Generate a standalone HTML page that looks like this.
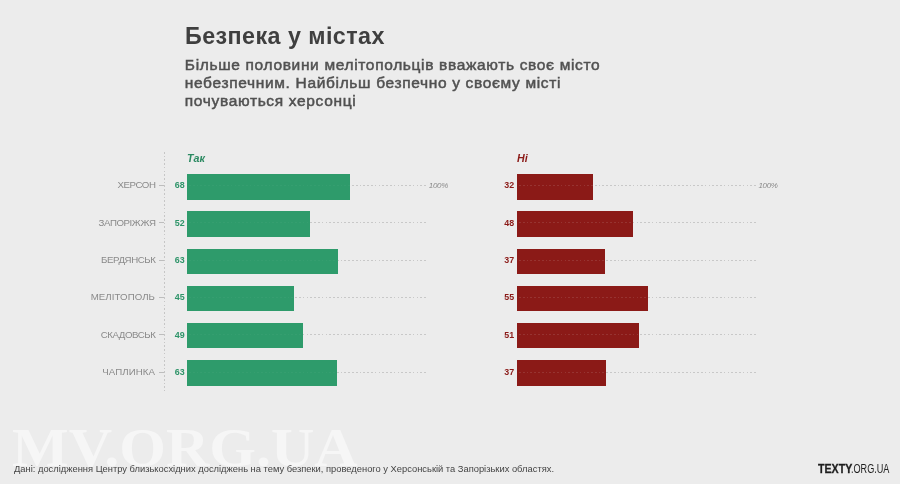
<!DOCTYPE html>
<html lang="uk"><head><meta charset="utf-8"><title>Безпека у містах</title>
<style>
html,body{margin:0;padding:0}
body{width:900px;height:484px;background:#ececec;position:relative;overflow:hidden;font-family:"Liberation Sans","DejaVu Sans",sans-serif;color:#444}
#wrap{position:absolute;left:0;top:0;width:900px;height:484px;overflow:hidden;background:#ececec}
h1{position:absolute;left:185px;top:22px;margin:0;font-size:23.3px;line-height:28px;font-weight:bold;color:#3f3f3f;letter-spacing:0.44px;white-space:nowrap}
p.sub{position:absolute;left:184.8px;top:55.5px;margin:0;font-size:15.5px;line-height:18.4px;font-weight:normal;color:#515151;-webkit-text-stroke:0.5px #515151;width:520px;letter-spacing:0.66px;white-space:nowrap}
.city{position:absolute;right:744.5px;height:26px;line-height:26px;font-size:9.7px;color:#8a8a8a;white-space:nowrap;letter-spacing:-0.42px}
.tick{position:absolute;left:159px;width:4.5px;height:1px;background:#bdbdbd}
.vax{position:absolute;left:164.1px;top:151.5px;height:239.5px;width:1.2px;background:repeating-linear-gradient(to bottom,#c6c6c6 0,#c6c6c6 1.6px,transparent 1.6px,transparent 3.72px)}
.dl{position:absolute;width:239px;height:1px;background:repeating-linear-gradient(to right,transparent 0,transparent 2.1px,#c8c8c8 2.1px,#c8c8c8 3.79px)}
.bar{position:absolute;height:25.7px}
.bar i{position:absolute;left:0;right:0;top:11.2px;height:1px;background:repeating-linear-gradient(to right,transparent 0,transparent 2.1px,rgba(236,236,236,0.12) 2.1px,rgba(236,236,236,0.12) 3.79px)}
.gb{background:#2e9b6b}
.gb i{opacity:0.3}
.rb{background:#8b1a17}
.val{position:absolute;width:30px;text-align:right;height:26px;line-height:26px;font-size:8.9px;font-weight:bold}
.g{color:#2e9469}.r{color:#8b1a17}
.hd{position:absolute;top:151.6px;font-size:10.7px;line-height:13px;font-style:italic;font-weight:bold}
.hd.g{color:#2c8a62}
.pct{position:absolute;top:179.7px;font-size:8px;line-height:12px;font-style:italic;color:#8a8a8a;letter-spacing:-0.3px}
.wm{position:absolute;left:12px;top:416px;font-family:"Liberation Serif",serif;font-weight:bold;font-size:60px;line-height:60px;color:#f6f6f6;white-space:nowrap;transform:scale(1,0.92);transform-origin:0 50px}
.src{position:absolute;left:14px;top:463.1px;font-size:9.35px;line-height:12px;color:#444;white-space:nowrap}
.logo{position:absolute;left:817.6px;top:462.4px;font-size:12.3px;line-height:14px;color:#1e1e1e;white-space:nowrap}
.logo b,.logo span{position:absolute;top:0;left:0;transform-origin:0 0}
.logo b{transform:scaleX(0.865);-webkit-text-stroke:0.3px #1e1e1e}
.logo span{left:33.9px;transform:scaleX(0.74)}
</style></head><body><div id="wrap">
<h1>Безпека у містах</h1>
<p class="sub">Більше половини мелітопольців вважають своє місто<br>небезпечним. Найбільш безпечно у своєму місті<br>почуваються херсонці</p>
<div class="vax"></div>
<div class="hd g" style="left:187px">Так</div>
<div class="hd r" style="left:517px">Ні</div>
<div class="city" style="top:172.2px">ХЕРСОН</div>
<div class="tick" style="top:185px"></div>
<div class="dl" style="left:186.7px;top:185px"></div>
<div class="dl" style="left:516.7px;top:185px"></div>
<div class="val g" style="left:154.7px;top:172.2px">68</div>
<div class="bar gb" style="left:186.7px;top:174.2px;width:163.1px"><i style="top:10.80px"></i></div>
<div class="val r" style="left:484.20000000000005px;top:172.2px">32</div>
<div class="bar rb" style="left:516.7px;top:174.2px;width:76.1px"><i style="top:10.80px"></i></div>
<div class="city" style="top:209.6px">ЗАПОРІЖЖЯ</div>
<div class="tick" style="top:222px"></div>
<div class="dl" style="left:186.7px;top:222px"></div>
<div class="dl" style="left:516.7px;top:222px"></div>
<div class="val g" style="left:154.7px;top:209.6px">52</div>
<div class="bar gb" style="left:186.7px;top:211.3px;width:123.5px"><i style="top:10.65px"></i></div>
<div class="val r" style="left:484.20000000000005px;top:209.6px">48</div>
<div class="bar rb" style="left:516.7px;top:211.3px;width:116.3px"><i style="top:10.65px"></i></div>
<div class="city" style="top:246.9px">БЕРДЯНСЬК</div>
<div class="tick" style="top:260px"></div>
<div class="dl" style="left:186.7px;top:260px"></div>
<div class="dl" style="left:516.7px;top:260px"></div>
<div class="val g" style="left:154.7px;top:246.9px">63</div>
<div class="bar gb" style="left:186.7px;top:248.5px;width:151.1px"><i style="top:11.50px"></i></div>
<div class="val r" style="left:484.20000000000005px;top:246.9px">37</div>
<div class="bar rb" style="left:516.7px;top:248.5px;width:88.3px"><i style="top:11.50px"></i></div>
<div class="city" style="top:284.3px;letter-spacing:0.06px;right:745px">МЕЛІТОПОЛЬ</div>
<div class="tick" style="top:297px"></div>
<div class="dl" style="left:186.7px;top:297px"></div>
<div class="dl" style="left:516.7px;top:297px"></div>
<div class="val g" style="left:154.7px;top:284.3px">45</div>
<div class="bar gb" style="left:186.7px;top:285.6px;width:107.5px"><i style="top:11.35px"></i></div>
<div class="val r" style="left:484.20000000000005px;top:284.3px">55</div>
<div class="bar rb" style="left:516.7px;top:285.6px;width:131.2px"><i style="top:11.35px"></i></div>
<div class="city" style="top:321.6px">СКАДОВСЬК</div>
<div class="tick" style="top:334px"></div>
<div class="dl" style="left:186.7px;top:334px"></div>
<div class="dl" style="left:516.7px;top:334px"></div>
<div class="val g" style="left:154.7px;top:321.6px">49</div>
<div class="bar gb" style="left:186.7px;top:322.8px;width:116.4px"><i style="top:11.20px"></i></div>
<div class="val r" style="left:484.20000000000005px;top:321.6px">51</div>
<div class="bar rb" style="left:516.7px;top:322.8px;width:122.7px"><i style="top:11.20px"></i></div>
<div class="city" style="top:359.0px;letter-spacing:0.07px;right:745px">ЧАПЛИНКА</div>
<div class="tick" style="top:372px"></div>
<div class="dl" style="left:186.7px;top:372px"></div>
<div class="dl" style="left:516.7px;top:372px"></div>
<div class="val g" style="left:154.7px;top:359.0px">63</div>
<div class="bar gb" style="left:186.7px;top:359.9px;width:150.3px"><i style="top:12.05px"></i></div>
<div class="val r" style="left:484.20000000000005px;top:359.0px">37</div>
<div class="bar rb" style="left:516.7px;top:359.9px;width:88.9px"><i style="top:12.05px"></i></div>
<div class="pct" style="left:428.8px">100%</div>
<div class="pct" style="left:758.4px">100%</div>
<div class="wm">MV.ORG.UA</div>
<div class="src">Дані: дослідження Центру близькосхідних досліджень на тему безпеки, проведеного у Херсонській та Запорізьких областях.</div>
<div class="logo"><b>TEXTY</b><span>.ORG.UA</span></div>
</div></body></html>
